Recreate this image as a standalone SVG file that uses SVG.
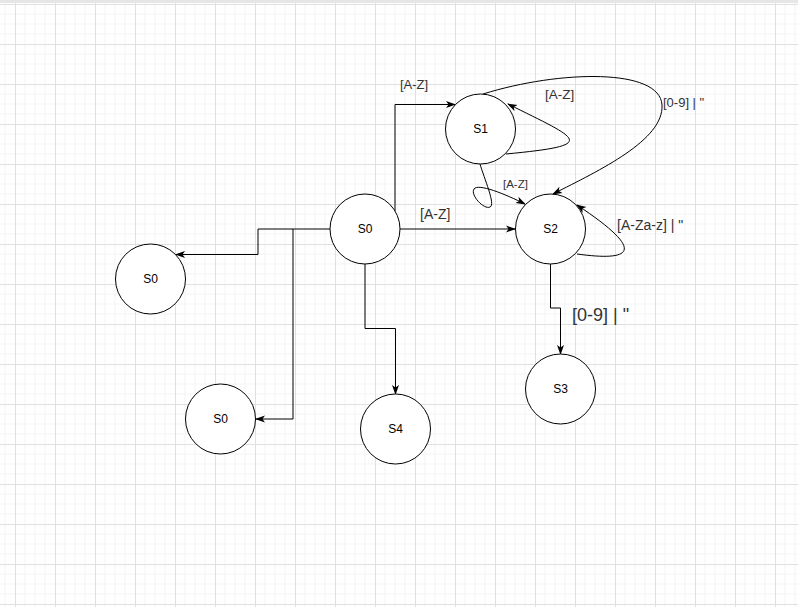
<svg xmlns="http://www.w3.org/2000/svg" width="798" height="607" viewBox="0 0 798 607">
  <defs>
    <pattern id="grid" x="15" y="4" width="40" height="40" patternUnits="userSpaceOnUse">
      <path d="M10,0 V40 M20,0 V40 M30,0 V40 M0,10 H40 M0,20 H40 M0,30 H40" stroke="#f3f3f3" stroke-width="1" fill="none"/>
      <path d="M0.5,0 V40 M0,0.5 H40" stroke="#e0e0e0" stroke-width="1" fill="none"/>
    </pattern>
    <marker id="arrow" markerWidth="10" markerHeight="8" refX="9" refY="4" orient="auto" markerUnits="userSpaceOnUse">
      <path d="M0,0.5 L10,4 L0,7.5 L2.5,4 Z" fill="#000"/>
    </marker>
    <style>
      .node circle { fill: #ffffff; stroke: #000; stroke-width: 1; }
      .node text { font-family: "Liberation Sans", Arial, sans-serif; font-size: 12px; fill: #000; text-anchor: middle; }
      .edge { fill: none; stroke: #000; stroke-width: 1; }
      .arr { marker-end: url(#arrow); }
      .lbl { font-family: "Liberation Sans", Arial, sans-serif; fill: #333; }
    </style>
  </defs>

  <rect x="0" y="0" width="798" height="607" fill="#ffffff"/>
  <rect x="0" y="0" width="798" height="607" fill="url(#grid)"/>
  <rect x="0" y="0" width="798" height="3" fill="#e6e6e6"/>

  <g id="connectors">
    <path class="edge arr" d="M395,211 V104.5 H455"/>
    <path class="edge arr" d="M400,229 H515"/>
    <path class="edge arr" d="M330,229 H258 V254.5 H176"/>
    <path class="edge arr" d="M293,229 V419 H256"/>
    <path class="edge arr" d="M365,264 V328.5 H395.5 V394"/>
    <path class="edge arr" d="M550.5,264 V308 H560.5 V354"/>
    <path class="edge arr" d="M506,154 C600,145 580,140 508,104"/>
    <path class="edge arr" d="M480,164 C484,178 496,205 490,207 C484,210 470,195 474,189 C478,183 505,194 525,204"/>
    <path class="edge arr" d="M483,94 C560,70 660,68 662,105 C664,140 600,170 553,194"/>
    <path class="edge arr" d="M577,254 C635,262 645,250 577,205"/>
    <text class="lbl" x="400" y="89" font-size="13">[A-Z]</text>
    <text class="lbl" x="420" y="219" font-size="14">[A-Z]</text>
    <text class="lbl" x="545" y="99" font-size="13.5">[A-Z]</text>
    <text class="lbl" x="503" y="188" font-size="11.5">[A-Z]</text>
    <text class="lbl" x="663" y="107" font-size="13">[0-9] | "</text>
    <text class="lbl" x="617" y="230" font-size="14">[A-Za-z] | "</text>
    <text class="lbl" x="572" y="321" font-size="18">[0-9] | "</text>
  </g>

  <g id="node-s0" class="node"><circle cx="365" cy="229" r="35"/><text x="365" y="233">S0</text></g>
  <g id="node-s1" class="node"><circle cx="480.5" cy="129" r="35"/><text x="480.5" y="133">S1</text></g>
  <g id="node-s2" class="node"><circle cx="550.5" cy="229" r="35"/><text x="550.5" y="233">S2</text></g>
  <g id="node-s3" class="node"><circle cx="560.5" cy="389" r="35"/><text x="560.5" y="393">S3</text></g>
  <g id="node-s4" class="node"><circle cx="395.5" cy="429" r="35"/><text x="395.5" y="433">S4</text></g>
  <g id="node-s0-left" class="node"><circle cx="150.5" cy="279" r="35"/><text x="150.5" y="283">S0</text></g>
  <g id="node-s0-bottom" class="node"><circle cx="220.5" cy="419" r="35"/><text x="220.5" y="423">S0</text></g>
</svg>
